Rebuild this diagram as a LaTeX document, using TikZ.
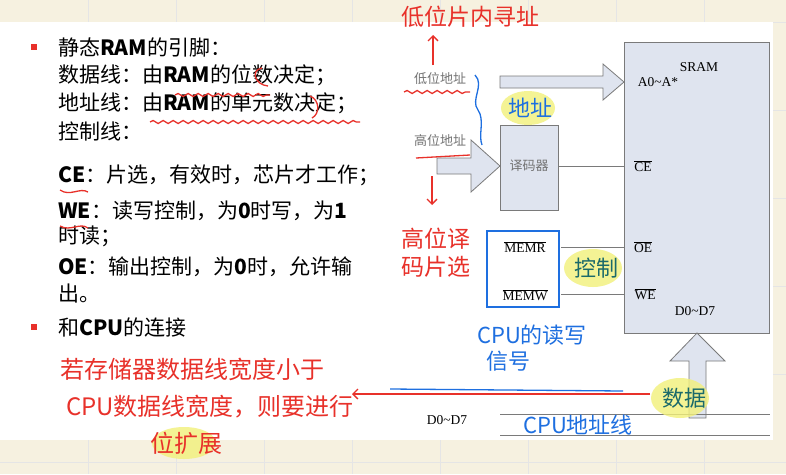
\documentclass[tikz,border=0pt]{standalone}
\usepackage{fontspec}
\setmainfont{Liberation Serif}
\newfontfamily\cjk{Noto Sans CJK SC}
\usetikzlibrary{arrows.meta,decorations.pathmorphing}
\definecolor{boxfill}{HTML}{DFE4EF}
\definecolor{boxline}{HTML}{7A7A7A}
\definecolor{hred}{HTML}{E8312A}
\definecolor{hblue}{HTML}{1E6FE0}
\definecolor{hteal}{HTML}{1B6A6A}
\definecolor{hl}{HTML}{F2F07A}
\definecolor{paper}{HTML}{F6F1E0}
\tikzset{
 blk/.style={draw=boxline,fill=boxfill,line width=0.8pt},
 fat/.style={draw=boxline,fill=boxfill,line width=0.8pt},
 lbl/.style={font=\fontsize{13.5}{15}\selectfont,inner sep=1pt},
 gl/.style={font=\cjk\fontsize{13}{15}\selectfont,text=black!55,inner sep=1pt},
 slide/.style={font=\cjk\fontsize{21}{24}\selectfont,anchor=west,inner sep=0pt},
 red/.style={font=\cjk\fontsize{23}{26}\selectfont,text=hred,inner sep=0pt},
 blue/.style={font=\cjk\fontsize{22}{26}\selectfont,text=hblue,inner sep=0pt},
 teal/.style={font=\cjk\fontsize{22}{26}\selectfont,text=hteal,inner sep=0pt},
 wav/.style={decorate,decoration={snake,amplitude=1.5pt,segment length=10pt},line width=1.3pt},
}
\begin{document}
\begin{tikzpicture}[x=1pt,y=-1pt]
\useasboundingbox (0,0) rectangle (786,474);
\fill[paper] (0,0) rectangle (786,474);
\foreach \x in {88,176,...,786} \draw[black!10] (\x,0)--(\x,474);
\foreach \y in {22,110,...,474} \draw[black!10] (0,\y)--(786,\y);
\fill[white] (0,22) rectangle (773,440);
% slide text
\fill[hred] (31,44) rectangle (37,50);
\node[slide] (t1) at (58,47) {静态\textbf{RAM}的引脚：};
\node[slide] (t2) at (58,75) {数据线：由\textbf{RAM}的位数决定；};
\node[slide] (t3) at (58,103) {地址线：由\textbf{RAM}的单元数决定；};
\node[slide] (t4) at (58,131) {控制线：};
\node[slide] (t5) at (58,175) {\textbf{CE}：片选，有效时，芯片才工作；};
\node[slide] (t6) at (58,211) {\textbf{WE}：读写控制，为\textbf{0}时写，为\textbf{1}};
\node[slide] (t7) at (58,236) {时读；};
\node[slide] (t8) at (58,267) {\textbf{OE}：输出控制，为\textbf{0}时，允许输};
\node[slide] (t9) at (58,294) {出。};
\fill[hred] (31,324) rectangle (37,330);
\node[slide] (t10) at (58,327) {和\textbf{CPU}的连接};
% SRAM
\draw[blk] (624,42) rectangle (769,333);
\node[lbl] (sram) at (699,67) {SRAM};
\node[lbl] (aa) at (658,82) {A0\textasciitilde A*};
\node[lbl] (ce) at (643,166) {$\overline{\mbox{CE}}$};
\node[lbl] (oe) at (643,247) {$\overline{\mbox{OE}}$};
\node[lbl] (we) at (645,294) {$\overline{\mbox{WE}}$};
\node[lbl] (dd) at (695,311) {D0\textasciitilde D7};
% decoder
\node[blk,minimum width=58pt,minimum height=85pt,anchor=north west] (dec) at (500,125) {};
\node[gl] (decl) at (529,166) {译码器};
\draw[boxline,line width=0.8pt] (558,166)--(624,166);
% memr box
\draw[hblue,line width=1.5pt] (487,231) rectangle (559,307);
\node[lbl] (memr) at (525,247) {$\overline{\mbox{MEMR}}$};
\node[lbl] (memw) at (525,295) {$\overline{\mbox{MEMW}}$};
\draw[boxline,line width=0.8pt] (561,247)--(624,247);
\draw[boxline,line width=0.8pt] (561,294)--(624,294);
% fat arrows
\draw[fat] (500,76)--(603,76)--(603,64)--(624,82)--(603,100)--(603,88)--(500,88)--cycle;
\draw[fat] (437,158)--(471,158)--(471,140)--(500,166)--(471,192)--(471,174)--(437,174)--cycle;
\draw[fat] (689,418)--(689,361)--(670,361)--(697,333)--(725,361)--(706,361)--(706,418)--cycle;
\node[gl] (low) at (440,79) {低位地址};
\node[gl] (high) at (440,141) {高位地址};
% bus
\draw[boxline,line width=0.8pt] (500,414)--(770,414);
\draw[boxline,line width=0.8pt] (500,435)--(770,435);
\node[lbl] (bd) at (447,420) {D0\textasciitilde D7};
% highlights
\fill[hl,opacity=0.8] (528,108) ellipse (27pt and 17pt);
\fill[hl,opacity=0.8] (593,268) ellipse (29pt and 19pt);
\fill[hl,opacity=0.8] (680,398) ellipse (29pt and 20pt);
\fill[hl,opacity=0.8] (184,443) ellipse (32pt and 16pt);
% handwriting
\node[red] (h1) at (470,17) {低位片内寻址};
\node[red,font=\cjk\fontsize{23}{28}\selectfont,align=left] (h2) at (436,253) {高位译\\码片选};
\node[blue] (h3) at (530,108) {地址};
\node[teal] (h4) at (596,268) {控制};
\node[blue,align=left] (h5) at (532,348) {CPU的读写\\ \ \ 信号};
\node[teal] (h6) at (684,398) {数据};
\node[blue] (h7) at (578,425) {CPU地址线};
\node[red,font=\cjk\fontsize{24}{26}\selectfont] (h8) at (192,369) {若存储器数据线宽度小于};
\node[red,font=\cjk\fontsize{24}{26}\selectfont] (h9) at (210,407) {CPU数据线宽度，则要进行};
\node[red,font=\cjk\fontsize{24}{26}\selectfont] (h10) at (186,443) {位扩展};
\draw[hred,line width=1.3pt,-{Straight Barb[length=5pt]}] (650,394)--(352,394);
\draw[hred,line width=1.3pt,-{Straight Barb[length=5pt]}] (433,65)--(433,35);
\draw[hred,line width=1.3pt,-{Straight Barb[length=5pt]}] (432,176)--(432,205);
\draw[hred,wav] (404,92)--(470,92);
\draw[hred,line width=1.3pt] (416,158)--(470,155);
\draw[hblue,line width=1.3pt] (475,75) .. controls (485,85) and (470,100) .. (478,110) .. controls (485,120) and (478,135) .. (482,145);
\draw[hblue,line width=1.3pt] (390,389)--(623,391);
\draw[hred,wav] (175,95)--(270,95);
\draw[hred,wav] (150,122)--(360,122);
\draw[hred,line width=1.3pt] (262,68) .. controls (250,70) and (255,85) .. (268,86);
\draw[hred,line width=1.3pt] (310,96) .. controls (320,100) and (320,114) .. (312,118);
\draw[hred,line width=1.3pt] (60,190) .. controls (70,197) and (80,187) .. (88,192);
\draw[hred,line width=1.3pt] (60,226) .. controls (70,232) and (80,222) .. (88,228);
\end{tikzpicture}
\end{document}
